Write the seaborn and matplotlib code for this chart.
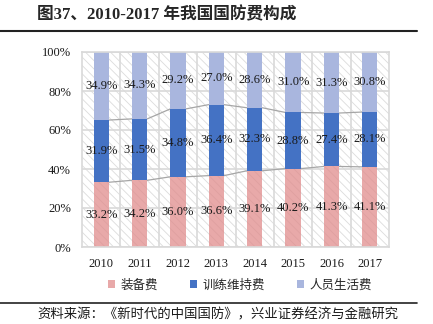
import numpy as np
import pandas as pd
import matplotlib
matplotlib.use("Agg")
import matplotlib.pyplot as plt
import seaborn as sns
from matplotlib.patches import Rectangle, Patch
from matplotlib.lines import Line2D
from matplotlib.ticker import FixedLocator

years = ["2010", "2011", "2012", "2013", "2014", "2015", "2016", "2017"]
equipment = [33.2, 34.2, 36.0, 36.6, 39.1, 40.2, 41.3, 41.1]
training = [31.9, 31.5, 34.8, 36.4, 32.3, 28.8, 27.4, 28.1]
personnel = [34.9, 34.3, 29.2, 27.0, 28.6, 31.0, 31.3, 30.8]
series_names = ["装备费", "训练维持费", "人员生活费"]
title_text = "图37、2010-2017 年我国国防费构成"
source_text = "资料来源：《新时代的中国国防》，兴业证券经济与金融研究"

c_pink = "#E8A9A9"
c_blue = "#4472C4"
c_light = "#A9B6DE"
c_grid = "#D9D9D9"

sns.set_style("white")
plt.rcParams["font.family"] = ["Liberation Serif", "Noto Sans CJK SC", "DejaVu Sans"]
plt.rcParams["hatch.linewidth"] = 0.6

df = pd.DataFrame({"year": years, "equipment": equipment,
                   "training": training, "personnel": personnel})
df["c1"] = df["equipment"]
df["c2"] = df["equipment"] + df["training"]
df["c3"] = df["c2"] + df["personnel"]

fig = plt.figure(figsize=(4.33, 3.24), dpi=100)
ax = fig.add_axes([82 / 433, 1 - 247 / 324, (389 - 82) / 433, (247 - 52) / 324])

# hatched background
bg = Rectangle((0, 0), 1, 1, transform=ax.transAxes, facecolor="white",
               edgecolor="#DCDCDC", hatch="\\\\\\\\", lw=0, zorder=0.1)
ax.add_patch(bg)

sns.barplot(data=df, x="year", y="c3", order=years, color=c_light, width=0.4,
            saturation=1, ax=ax, zorder=2, linewidth=0)
sns.barplot(data=df, x="year", y="c2", order=years, color=c_blue, width=0.4,
            saturation=1, ax=ax, zorder=2, linewidth=0)
sns.barplot(data=df, x="year", y="c1", order=years, color=c_pink, width=0.4,
            saturation=1, ax=ax, zorder=2, linewidth=0)
# subtle hatch on pink bars
for p in ax.patches[-len(years):]:
    p.set_hatch("\\\\\\\\")
    p.set_edgecolor("#DFA0A0")
    p.set_linewidth(0)

# connector lines
hw = 0.2
for col in ["c1", "c2"]:
    vals = df[col].values
    for i in range(len(years) - 1):
        ax.plot([i + hw, i + 1 - hw], [vals[i], vals[i + 1]], color="#A6A6A6",
                lw=0.9, zorder=1.5)

# labels
for i in range(len(years)):
    segs = [(0, equipment[i]), (df["c1"][i], training[i]), (df["c2"][i], personnel[i])]
    for b, v in segs:
        ax.text(i, b + v / 2, f"{v:.1f}%", ha="center", va="center",
                fontsize=9, color="#1a1a1a", zorder=3,
                family=["Liberation Serif"])

ax.set_ylim(0, 100)
ax.set_xlim(-0.5, len(years) - 0.5)
ax.set_yticks(np.arange(0, 101, 20))
ax.set_yticklabels([f"{v}%" for v in range(0, 101, 20)])
ax.set_xlabel("")
ax.set_ylabel("")
ax.xaxis.set_minor_locator(FixedLocator(np.arange(0.5, len(years) - 1, 1)))
ax.set_axisbelow(True)
ax.grid(True, axis="y", which="major", color=c_grid, lw=1.2)
ax.grid(True, axis="x", which="minor", color=c_grid, lw=1.2)
ax.grid(False, axis="x", which="major")
ax.tick_params(axis="both", which="both", length=0, labelsize=9, colors="#1a1a1a")
ax.tick_params(axis="y", pad=8)
ax.tick_params(axis="x", pad=8)
for s in ax.spines.values():
    s.set_color(c_grid)
    s.set_linewidth(1.2)

handles = [Patch(facecolor=c, edgecolor="none") for c in [c_pink, c_blue, c_light]]
fig.legend(handles, series_names, loc="center", bbox_to_anchor=(240 / 433, 1 - 285 / 324),
           ncol=3, frameon=False, handlelength=0.55, handleheight=0.55,
           handletextpad=0.4, columnspacing=2.6,
           prop={"family": ["Noto Sans CJK SC"], "size": 9})

fig.text(37 / 433, 1 - 15 / 324, title_text, ha="left", va="center",
         fontsize=12, fontweight="bold",
         family=["Liberation Serif", "Noto Sans CJK SC"])
fig.add_artist(Line2D([0, 417 / 433], [1 - 31 / 324] * 2, color="#222222", lw=1.5))
fig.add_artist(Line2D([0, 417 / 433], [1 - 303 / 324] * 2, color="#222222", lw=1.2))
fig.text(37 / 433, 1 - 314 / 324, source_text, ha="left", va="center",
         fontsize=9.6, family=["Noto Sans CJK SC"], color="#1a1a1a")

fig.savefig("out.png", dpi=100)
